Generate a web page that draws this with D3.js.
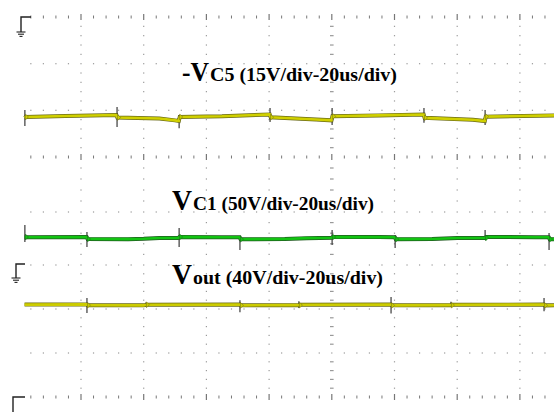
<!DOCTYPE html>
<html>
<head>
<meta charset="utf-8">
<script src="https://cdn.jsdelivr.net/npm/d3@7"></script>
<style>
html, body { margin: 0; padding: 0; background: #fff; }
svg { display: block; }
</style>
</head>
<body>
<div id="chart"></div>
<script>
// ---- data (time in us, voltage in V) ----
// -VC5 (15V/div)
const vc5_time = [2.0, 2.4, 15, 31.3, 31.6, 45, 50, 51.2, 51.5, 65, 80.2, 80.5, 95, 99.9, 100.2, 115, 129.3, 129.6, 145, 148.8, 149.1, 171];
const vc5_volt = [-32.4, -32.1, -31.8, -31.5, -32.3, -32.6, -33.2, -33.4, -32.1, -31.9, -31.3, -32.2, -32.9, -33.2, -31.9, -31.6, -31.3, -32.4, -33.0, -33.4, -32.0, -31.6];
const vc5_spike_time = [2.1, 31.5, 51.3, 80.3, 100.1, 129.4, 148.9];
const vc5_spike_hi = [-29.9, -28.9, -31.5, -29.2, -29.2, -29.2, -29.9];
const vc5_spike_lo = [-35.0, -35.3, -35.7, -33.7, -34.7, -34.0, -34.7];

// VC1 (50V/div)
const vc1_time = [2.0, 21.8, 22.1, 35, 40, 45, 51.1, 51.4, 65, 70.6, 70.9, 85, 92, 100, 100.3, 115, 120.1, 120.4, 132, 140, 148.9, 149.2, 165, 169.2, 169.5, 171];
const vc1_volt = [31.6, 31.8, 29.5, 29.4, 29.8, 30.6, 30.8, 31.9, 31.6, 31.5, 29.3, 29.5, 30.5, 30.9, 31.8, 31.7, 31.5, 29.4, 29.6, 30.6, 30.8, 31.9, 31.6, 31.5, 29.4, 29.4];
const vc1_spike_time = [2.1, 21.9, 51.3, 70.7, 100.1, 120.2, 148.9, 169.3];
const vc1_spike_hi = [45.5, 37.5, 42.0, 31.8, 39.8, 34.0, 39.8, 36.4];
const vc1_spike_lo = [26.1, 20.5, 20.5, 17.0, 22.7, 19.3, 28.4, 17.0];

// Vout (40V/div)
const vout_time = [2.0, 21.8, 22.1, 40, 40.8, 70.6, 70.9, 89.5, 90, 118.8, 119.1, 138, 138.5, 167.6, 167.9, 171];
const vout_volt = [84.0, 84.2, 83.5, 83.3, 83.8, 84.0, 83.3, 83.5, 83.9, 84.0, 83.3, 83.5, 83.9, 84.0, 83.3, 83.4];
const vout_spike_time = [21.9, 40.7, 70.7, 89.5, 118.9, 138.0, 167.7];
const vout_spike_hi = [90.0, 86.0, 88.0, 87.0, 91.0, 86.5, 90.0];
const vout_spike_lo = [76.4, 82.0, 77.0, 81.0, 76.0, 82.0, 78.0];

// labels: big part / small part
const label_big = ["-V", "V", "V"];
const label_small = ["C5 (15V/div-20us/div)", "C1 (50V/div-20us/div)", "out (40V/div-20us/div)"];

// ---- layout ----
const W = 554, H = 412;
const us_per_div = 20;
// grid row index -> pixel y (two pasted screens, so not one even step)
const y_row = d3.scaleLinear()
    .domain([0, 1, 2, 3, 4, 5, 6, 7, 8])
    .range([17, 63.7, 110.3, 157, 212, 265, 309, 353, 397]);
const tick_rows = [0, 3, 8];
const dot_rows = [1, 2, 4, 5, 6, 7];

// time axis
const x = d3.scaleLinear().domain([0, 200]).range([18.3, 645.3]);

const svg = d3.select("#chart").append("svg")
    .attr("width", W)
    .attr("height", H);

const grid = svg.append("g").attr("class", "grid");
const minor_t = d3.range(4, 200, 4).filter(function(t){ return t % us_per_div != 0; });
const major_t = d3.range(20, 200, us_per_div);

// horizontal rows: dots
dot_rows.forEach(function(r){
    grid.selectAll(null)
        .data(minor_t.concat(major_t))
        .enter()
        .append("rect")
        .attr("x", function(d){ return x(d) - 0.6; })
        .attr("y", y_row(r) - 0.6)
        .attr("width", 1.2)
        .attr("height", 1.2)
        .attr("fill", "#999");
});
// horizontal rows: small ticks
tick_rows.forEach(function(r){
    grid.selectAll(null)
        .data(minor_t)
        .enter()
        .append("line")
        .attr("x1", function(d){ return x(d); })
        .attr("x2", function(d){ return x(d); })
        .attr("y1", y_row(r) - 1.5)
        .attr("y2", y_row(r) + 1.5)
        .attr("stroke", "#777")
        .attr("stroke-width", 1);
    grid.selectAll(null)
        .data(major_t)
        .enter()
        .append("line")
        .attr("x1", function(d){ return x(d); })
        .attr("x2", function(d){ return x(d); })
        .attr("y1", y_row(r) - 3)
        .attr("y2", y_row(r) + 3)
        .attr("stroke", "#777")
        .attr("stroke-width", 1.2);
});

// vertical gridlines: dots every 1/5 div
let minor_rows = [];
for (let r = 0; r < 8; r++) {
    for (let k = 1; k < 5; k++) minor_rows.push(r + k / 5);
}
major_t.forEach(function(t){
    const center = (t == 100);
    grid.selectAll(null)
        .data(minor_rows)
        .enter()
        .append("rect")
        .attr("x", x(t) - (center ? 1.8 : 0.6))
        .attr("y", function(d){ return y_row(d) - 0.6; })
        .attr("width", center ? 3.6 : 1.2)
        .attr("height", 1.2)
        .attr("fill", "#999");
});

// ground markers
const gnd = [
    { y: 17, x0: 21, x1: 31, drop: 15, sym: true },
    { y: 264, x0: 16, x1: 25, drop: 14, sym: true },
    { y: 397, x0: 13, x1: 25, drop: 16, sym: false }
];
gnd.forEach(function(g){
    svg.append("path")
        .attr("d", "M" + g.x1 + "," + g.y + "H" + g.x0 + "V" + (g.y + g.drop))
        .attr("fill", "none")
        .attr("stroke", "#222")
        .attr("stroke-width", 1.4);
    if (g.sym) {
        [4.5, 3, 1.5].forEach(function(hw, i){
            svg.append("line")
                .attr("x1", g.x0 - hw).attr("x2", g.x0 + hw)
                .attr("y1", g.y + g.drop + i * 2.2)
                .attr("y2", g.y + g.drop + i * 2.2)
                .attr("stroke", "#222")
                .attr("stroke-width", 1.1);
        });
    }
});

// traces
function draw_trace(times, volts, sp_t, sp_hi, sp_lo, ground_y, px_per_div, v_per_div, color, edge){
    const y = d3.scaleLinear().domain([0, v_per_div]).range([ground_y, ground_y - px_per_div]);
    const pts = times.map(function(t, i){ return [t, volts[i]]; });
    const line = d3.line()
        .x(function(d){ return x(d[0]); })
        .y(function(d){ return y(d[1]); });
    const g = svg.append("g");
    g.append("path").datum(pts)
        .attr("d", line)
        .attr("fill", "none")
        .attr("stroke", edge)
        .attr("stroke-width", 4);
    g.selectAll(null)
        .data(sp_t)
        .enter()
        .append("line")
        .attr("x1", function(d){ return x(d); })
        .attr("x2", function(d){ return x(d); })
        .attr("y1", function(d, i){ return y(sp_hi[i]); })
        .attr("y2", function(d, i){ return y(sp_lo[i]); })
        .attr("stroke", "#3a3a3a")
        .attr("stroke-width", 1.2);
    g.append("path").datum(pts)
        .attr("d", line)
        .attr("fill", "none")
        .attr("stroke", color)
        .attr("stroke-width", 2.6);
    // small flare right of each spike
    g.selectAll(null)
        .data(sp_t)
        .enter()
        .append("path")
        .attr("d", function(d){
            const i = Math.min(d3.bisectLeft(times, d), volts.length - 1);
            const cx = x(d) + 0.5, cy = y(volts[i]);
            return "M" + cx + "," + (cy - 3) + "L" + (cx + 3) + "," + cy + "L" + cx + "," + (cy + 3) + "Z";
        })
        .attr("fill", color)
        .attr("stroke", edge)
        .attr("stroke-width", 0.5);
}

draw_trace(vc5_time, vc5_volt, vc5_spike_time, vc5_spike_hi, vc5_spike_lo, 17, 46.7, 15, "#d0d000", "#6a6a18");
draw_trace(vc1_time, vc1_volt, vc1_spike_time, vc1_spike_hi, vc1_spike_lo, 265, 44, 50, "#12c412", "#215a21");
draw_trace(vout_time, vout_volt, vout_spike_time, vout_spike_hi, vout_spike_lo, 397, 44, 40, "#cccc00", "#6a6a18");

// labels
const lab_pos = [
    { x: 182, y: 81, big: 27, big_w: 27, sx: 210, small_w: 187 },
    { x: 172, y: 210, big: 30, big_w: 20, sx: 193, small_w: 181 },
    { x: 172, y: 284, big: 30, big_w: 20, sx: 193, small_w: 190 }
];
const font = "'Liberation Serif', 'Times New Roman', Times, serif";
label_big.forEach(function(txt, i){
    const p = lab_pos[i];
    svg.append("text")
        .text(txt)
        .attr("x", p.x)
        .attr("y", p.y)
        .attr("font-family", font)
        .attr("font-weight", "bold")
        .attr("font-size", p.big)
        .attr("textLength", p.big_w)
        .attr("lengthAdjust", "spacingAndGlyphs")
        .attr("fill", "#000");
    svg.append("text")
        .text(label_small[i])
        .attr("x", p.sx)
        .attr("y", p.y)
        .attr("font-family", font)
        .attr("font-weight", "bold")
        .attr("font-size", 18)
        .attr("textLength", p.small_w)
        .attr("lengthAdjust", "spacingAndGlyphs")
        .attr("fill", "#000");
});
</script>
</body>
</html>
